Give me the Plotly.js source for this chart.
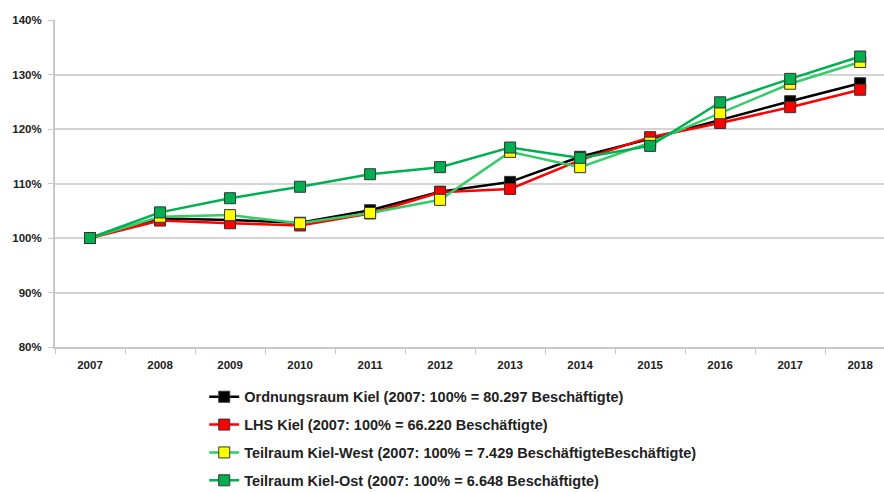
<!DOCTYPE html>
<html>
<head>
<meta charset="utf-8">
<script src="https://cdn.plot.ly/plotly-3.0.1.min.js"></script>
<style>html,body{margin:0;padding:0;background:#fff;}#chart{width:884px;height:492px;}</style>
</head>
<body>
<div id="chart"></div>
<script>
const years = ['2007','2008','2009','2010','2011','2012','2013','2014','2015','2016','2017','2018'];
const ordnungsraum = [1.000,1.036,1.033,1.028,1.051,1.085,1.103,1.149,1.182,1.217,1.251,1.284];
const lhsKiel      = [1.000,1.032,1.027,1.023,1.045,1.084,1.090,1.143,1.185,1.211,1.240,1.272];
const kielWest     = [1.000,1.039,1.042,1.027,1.046,1.070,1.158,1.130,1.175,1.229,1.283,1.323];
const kielOst      = [1.000,1.047,1.073,1.094,1.117,1.130,1.166,1.147,1.169,1.249,1.292,1.333];
const names = [
  'Ordnungsraum Kiel (2007: 100% = 80.297 Beschäftigte)',
  'LHS Kiel (2007: 100% = 66.220 Beschäftigte)',
  'Teilraum Kiel-West (2007: 100% = 7.429 BeschäftigteBeschäftigte)',
  'Teilraum Kiel-Ost (2007: 100% = 6.648 Beschäftigte)'
];
const yTicks = [0.8,0.9,1.0,1.1,1.2,1.3,1.4];

function tr(y, name, lineColor, markerColor, grp){
  return {
    x: years, y: y, name: name, type: 'scatter', mode: 'lines+markers',
    legendgroup: grp,
    line: {color: lineColor, width: 2.5},
    marker: {symbol: 'square', size: 11, color: markerColor, line: {color: '#333', width: 1}},
    cliponaxis: false
  };
}
const data = [
  tr(ordnungsraum, names[0], '#000000', '#000000', 'a'),
  tr(lhsKiel, names[1], '#ff0000', '#ff0000', 'b'),
  tr(kielWest, names[2], '#33cc66', '#ffff00', 'c'),
  tr(kielOst, names[3], '#00b050', '#00b050', 'd')
];
const layout = {
  width: 884, height: 492,
  margin: {l: 55, r: 0, t: 20, b: 145},
  paper_bgcolor: '#fff', plot_bgcolor: '#fff',
  font: {family: 'Liberation Sans, Arial, sans-serif', color: '#222'},
  showlegend: true,
  legend: {
    x: 0.18, xanchor: 'left', yref: 'container', y: 0.226, yanchor: 'top',
    orientation: 'v', tracegroupgap: 6,
    font: {size: 14.5, family: 'Liberation Sans, Arial, sans-serif', weight: 'bold', color: '#222'},
    itemwidth: 30
  },
  xaxis: {
    type: 'category', range: [-0.5, 11.34],
    showgrid: false, showline: true, linecolor: '#c8c8c8', linewidth: 2,
    ticks: 'outside', tickson: 'boundaries', ticklen: 5, tickcolor: '#c8c8c8',
    ticklabelstandoff: 6,
    tickfont: {size: 11.5, weight: 'bold', color: '#222'},
    zeroline: false, fixedrange: true
  },
  yaxis: {
    range: [0.8, 1.4], tickvals: yTicks, tickformat: '.0%',
    showgrid: true, gridcolor: '#d4d4d4', gridwidth: 2,
    showline: true, linecolor: '#c8c8c8', linewidth: 2,
    ticks: 'outside', ticklen: 5, tickcolor: '#c8c8c8',
    ticklabelstandoff: 4,
    tickfont: {size: 11.5, weight: 'bold', color: '#222'},
    zeroline: false, fixedrange: true
  }
};
Plotly.newPlot('chart', data, layout, {displayModeBar: false, staticPlot: true});
</script>
</body>
</html>
